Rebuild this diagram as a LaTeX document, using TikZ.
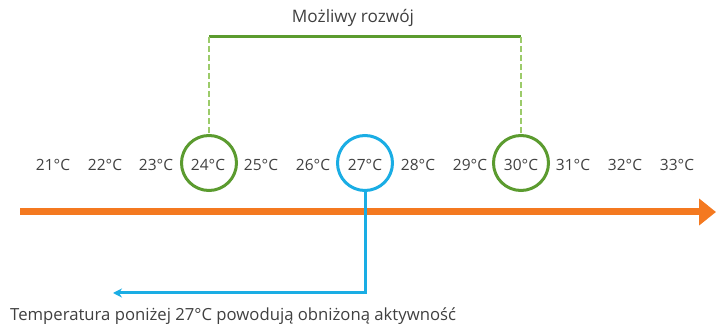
\documentclass[tikz,border=0pt]{standalone}
\usepackage{fontspec}
\setmainfont{Open Sans}
\usetikzlibrary{arrows.meta}
\definecolor{tgreen}{HTML}{5B9B2F}
\definecolor{tlgreen}{HTML}{9CCB6A}
\definecolor{tblue}{HTML}{1AADE4}
\definecolor{torange}{HTML}{F47920}
\definecolor{tgray}{HTML}{404040}
\tikzset{
  temp/.style={text=tgray, font=\fontsize{15.5}{18}\selectfont, inner sep=0pt},
  ring/.style={circle, draw, line width=3pt, minimum size=55pt, inner sep=0pt},
  lbl/.style={text=tgray, font=\fontsize{16.7}{19}\selectfont, inner sep=0pt},
}
\begin{document}
\begin{tikzpicture}[x=1pt,y=-1pt]
\useasboundingbox (0,0) rectangle (716,331);
% temperature labels
\foreach \t/\x in {21/53,22/105,23/156,24/208,25/261,26/313,27/365,28/418,29/470,30/521,31/573,32/625,33/677}{
  \node[temp] (t\t) at (\x,165) {\t°C};
}
% circles
\node[ring, draw=tgreen] (c24) at (209,163) {};
\node[ring, draw=tblue] (c27) at (365,163) {};
\node[ring, draw=tgreen] (c30) at (521,163) {};
% top bracket
\node[lbl, font=\fontsize{17.2}{19}\selectfont] (top) at (353,18) {Możliwy rozwój};
\coordinate (gl) at (209,37);
\coordinate (gr) at (521,37);
\draw[tgreen, line width=3pt] (gl) -- (gr);
\draw[tlgreen, line width=1.2pt, dash pattern=on 6pt off 3pt] (gl) -- (c24.north);
\draw[tlgreen, line width=1.2pt, dash pattern=on 6pt off 3pt] (gr) -- (c30.north);
% orange axis
\coordinate (oa) at (20,212);
\coordinate (ob) at (716,212);
\draw[torange, line width=7pt, -{Triangle[length=17pt,width=26pt]}] (oa) -- (ob);
% blue connector
\coordinate (bc) at (365,293);
\coordinate (be) at (113,293);
\draw[tblue, line width=3pt, -{Stealth[length=9pt,width=9pt]}] (c27.south) -- (bc) -- (be);
% bottom text
\node[lbl, anchor=west] (bottom) at (10,316) {Temperatura poniżej 27°C powodują obniżoną aktywność};
\end{tikzpicture}
\end{document}
